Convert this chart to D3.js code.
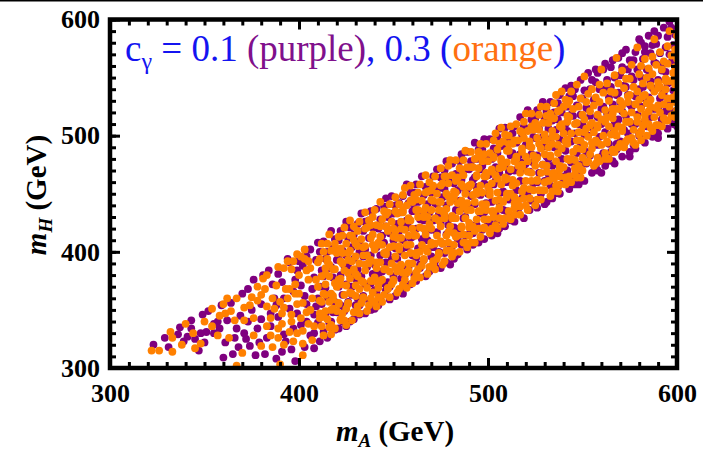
<!DOCTYPE html>
<html>
<head>
<meta charset="utf-8">
<script src="https://cdn.jsdelivr.net/npm/d3@7"></script>
<style>
  body { margin: 0; background: #fff; }
  svg { display: block; }
</style>
</head>
<body>
<svg id="chart" width="703" height="450"></svg>
<script>
// Axis tick values and labels
const xTicks = [300, 400, 500, 600];
const yTicks = [300, 400, 500, 600];
const xTickLabels = ["300", "400", "500", "600"];
const yTickLabels = ["300", "400", "500", "600"];

// Scan points [mA, mH] in GeV, c_gamma = 0.1
const purplePoints = [
  [323,320],[331,318],[329,326],[336,329],[343,341],[343,334],[339,323],[349,346],[351,331],[355,330],[347,315],
  [359,354],[362,341],[367,334],[368,318],[370,364],[373,368],[375,350],[378,334],[374,319],[377,311],[382,312],
  [387,360],[389,344],[383,326],[391,314],[386,372],[395,391],[389,381],[397,334],[401,337],[404,340],[401,371],
  [395,351],[404,355],[393,323],[398,306],[385,336],[380,355],[392,360],[357,340],[364,356],[352,349],[345,325],
  [361,322],[369,345],[376,376],[381,380],[384,384],[398,376],[399,347],[403,318],[406,328],[402,388],[406,402],
  [407,368],[365,312],[371,330],[360,309],[388,308],[396,316],[408,346],[408,317],[394,394],[399,384],[391,374],
  [385,347],[380,342],[373,340],[366,326],[358,334],[350,322],[337,335],[404,396],[400,392],[397,366],[403,362],
  [388,354],[392,329],[379,322],[372,325],[355,338],[348,330],[341,327],
  [410,408],[411,400],[409,393],[412,384],[408,378],[411,370],[410,360],[409,353],[412,345],[410,339],[408,330],[411,323],
  [413,409],[415,400],[414,394],[416,386],[413,379],[414,369],[415,361],[412,355],[414,346],[416,339],[413,331],[415,326],
  [417,418],[419,411],[418,403],[420,393],[417,387],[418,378],[420,371],[416,363],[419,357],[418,348],[417,340],[419,333],
  [422,418],[421,410],[423,401],[421,394],[424,388],[422,380],[421,370],[423,363],[422,354],[420,348],[423,340],[421,334],
  [425,426],[427,421],[426,412],[428,404],[425,397],[426,387],[427,380],[425,372],[428,363],[426,357],[424,349],[427,340],
  [431,424],[429,415],[430,408],[432,400],[429,394],[431,385],[430,377],[428,370],[431,360],[430,354],[432,346],[429,342],
  [433,433],[435,426],[434,418],[432,409],[435,402],[434,396],[436,387],[433,379],[435,372],[434,362],[432,354],[435,347],
  [438,435],[437,427],[439,421],[437,412],[440,404],[438,397],[436,388],[439,381],[438,373],[440,367],[437,358],[438,350],
  [441,437],[443,428],[442,420],[444,414],[441,404],[443,397],[440,389],[442,380],[444,373],[441,365],[443,359],[442,354],
  [446,446],[445,439],[447,430],[446,422],[448,416],[445,408],[447,398],[446,391],[444,383],[447,374],[446,367],[448,359],
  [449,448],[451,440],[450,433],[452,424],[449,418],[450,410],[451,403],[449,393],[452,385],[450,379],[448,370],[451,362],
  [455,448],[453,442],[454,434],[456,425],[453,418],[455,410],[454,400],[452,394],[455,386],[454,377],[456,370],[453,366],
  [457,458],[459,451],[458,442],[460,435],[457,427],[458,421],[459,412],[457,404],[460,397],[458,387],[456,380],[459,372],
  [462,458],[461,451],[463,443],[461,437],[464,428],[462,420],[460,413],[463,403],[462,395],[464,389],[461,380],[462,375],
  [465,465],[467,456],[466,449],[468,441],[465,433],[466,427],[467,418],[465,411],[468,401],[466,393],[464,386],[467,379],
  [471,465],[469,457],[470,451],[472,442],[469,434],[471,427],[470,419],[468,410],[471,404],[470,396],[472,387],[469,383],
  [473,471],[475,464],[474,455],[476,447],[473,441],[474,432],[475,425],[473,417],[476,407],[474,400],[472,392],[475,386],
  [478,478],[477,470],[479,463],[477,454],[480,446],[478,440],[476,430],[479,423],[478,415],[480,406],[477,399],[478,391],
  [481,476],[483,467],[482,459],[484,453],[481,445],[483,436],[480,429],[482,421],[484,411],[481,405],[483,397],[482,394],
  [486,484],[485,478],[487,469],[486,462],[488,454],[485,444],[486,437],[487,429],[485,420],[488,414],[486,406],[484,398],
  [489,486],[491,478],[490,471],[492,462],[489,454],[491,448],[490,440],[488,430],[491,423],[490,415],[492,406],[489,402],
  [493,494],[495,488],[494,480],[496,471],[493,464],[494,456],[495,450],[493,441],[496,433],[494,423],[492,416],[495,408],
  [498,497],[497,488],[499,482],[497,474],[500,466],[498,459],[496,449],[499,442],[498,434],[500,425],[497,419],[498,411],
  [501,497],[503,489],[502,480],[504,473],[501,467],[503,458],[500,450],[502,443],[504,433],[501,425],[503,418],[502,414],
  [506,506],[505,499],[507,491],[505,485],[508,476],[506,468],[504,461],[507,451],[506,443],[508,436],[505,427],[506,420],
  [509,507],[511,498],[510,491],[512,483],[509,475],[511,469],[510,460],[508,452],[511,445],[510,435],[512,427],[509,422],
  [514,508],[513,502],[515,494],[513,485],[516,478],[514,470],[512,460],[515,453],[514,445],[516,439],[513,430],[514,426],
  [517,516],[519,508],[518,501],[520,492],[517,484],[518,477],[519,471],[517,461],[520,453],[518,446],[516,437],[519,429],
  [521,522],[523,514],[522,506],[524,499],[521,493],[523,484],[520,476],[522,469],[524,459],[521,451],[523,444],[522,436],
  [526,522],[525,515],[527,506],[525,498],[528,491],[526,483],[524,477],[527,468],[526,460],[528,450],[525,443],[526,438],
  [529,529],[531,521],[530,515],[532,506],[529,499],[530,491],[531,482],[529,475],[532,467],[530,461],[528,451],[531,443],
  [533,529],[535,520],[534,513],[536,505],[533,497],[535,490],[532,480],[534,474],[536,466],[533,457],[535,450],[534,446],
  [538,535],[537,528],[539,520],[537,514],[540,505],[538,497],[536,490],[539,480],[538,472],[540,465],[537,456],[538,450],
  [541,541],[543,534],[542,525],[544,518],[541,510],[542,504],[543,495],[541,487],[544,477],[542,470],[540,462],[543,454],
  [546,540],[545,534],[547,526],[545,517],[548,510],[546,502],[544,495],[547,485],[546,477],[548,468],[545,462],[546,458],
  [549,548],[551,539],[550,532],[552,524],[549,518],[550,509],[551,501],[549,494],[552,486],[550,476],[548,469],[551,461],
  [553,554],[555,548],[554,540],[556,531],[553,523],[554,517],[555,507],[553,500],[556,492],[554,483],[552,476],[555,468],
  [558,554],[557,546],[559,540],[557,531],[560,523],[558,516],[556,507],[559,499],[558,492],[560,482],[557,474],[558,470],
  [561,557],[563,548],[562,540],[564,533],[561,525],[563,519],[560,510],[562,503],[564,493],[561,485],[563,478],[562,474],
  [566,565],[565,559],[567,550],[565,542],[568,535],[566,527],[564,517],[567,510],[566,502],[568,493],[565,486],[566,478],
  [569,567],[571,559],[570,552],[572,543],[569,537],[570,529],[571,521],[569,514],[572,505],[570,495],[568,488],[571,482],
  [573,574],[575,565],[574,557],[576,551],[573,542],[574,535],[575,527],[573,517],[576,510],[574,502],[572,493],[575,486],
  [578,572],[577,565],[579,557],[577,548],[580,540],[578,534],[576,525],[579,518],[578,510],[580,500],[577,492],[578,489],
  [581,580],[583,572],[582,566],[584,557],[581,550],[582,542],[583,532],[581,525],[584,516],[582,510],[580,502],[583,494],
  [585,586],[587,578],[586,571],[588,563],[585,556],[586,547],[587,541],[585,533],[588,523],[586,516],[584,508],[587,499],
  [590,586],[589,579],[591,571],[589,562],[592,556],[590,548],[588,539],[591,532],[590,524],[592,514],[589,507],[590,502],
  [593,593],[595,585],[594,576],[596,570],[593,562],[594,555],[595,545],[593,537],[596,530],[594,521],[592,513],[595,506],
  [597,593],[599,587],[598,578],[600,570],[597,563],[599,555],[596,546],[598,539],[600,531],[597,521],[599,514],[598,510],
  [596,598],[588,590],[580,583],[571,571],[583,577],[557,557],[544,543],[562,562],[560,468],[575,482],[590,498],
  [548,458],[530,441],[505,416],[480,389],[455,364],[440,351],[425,336],[600,508],[567,476]
];

// Scan points [mA, mH] in GeV, c_gamma = 0.3
const orangePoints = [
  [322,315],[326,315],[333,326],[333,314],[332,331],[340,338],[345,317],[348,321],[354,351],[354,336],[358,345],
  [360,355],[364,349],[363,326],[367,360],[374,354],[376,343],[376,328],[380,319],[381,377],[380,363],[383,353],
  [385,343],[389,334],[389,326],[392,320],[383,336],[397,323],[402,321],[402,332],[394,392],[399,398],[403,402],
  [389,387],[383,380],[395,368],[394,360],[399,355],[404,348],[367,302],[390,303],[371,341],[378,370],[386,360],
  [391,347],[396,340],[400,364],[405,376],[400,380],[396,385],[405,392],[407,360],[408,336],[407,324],[386,318],
  [370,313],[357,328],[350,340],[344,330],[338,320],[362,360],[402,311],[395,331],[388,371],[392,352],[403,394],
  [406,386],[398,372],[385,328],[375,361],[392,386],[397,392],[401,396],[404,384],[398,364],[402,356],[406,350],
  [393,368],[390,357],[387,351],[401,343],[405,338],[396,346],[399,330],[391,338],[382,368],[378,358],[371,352],
  [366,341],[361,347],
  [412,407],[413,400],[411,394],[414,386],[412,379],[410,370],[413,364],[412,357],[414,349],[411,343],[412,336],[413,328],
  [416,415],[415,407],[417,401],[415,394],[418,385],[416,379],[414,372],[417,364],[416,357],[418,351],[415,342],[416,335],[417,329],
  [421,413],[419,407],[420,399],[422,392],[419,385],[421,376],[420,370],[418,362],[421,355],[420,349],[422,341],[419,334],
  [424,421],[423,414],[425,407],[423,399],[426,393],[424,384],[422,377],[425,371],[424,363],[426,356],[423,347],[424,341],[425,337],
  [427,427],[429,422],[428,414],[430,407],[427,401],[428,392],[429,385],[427,377],[430,371],[428,364],[426,355],[429,348],[428,341],
  [432,426],[431,418],[433,411],[431,405],[434,397],[432,390],[430,381],[433,375],[432,368],[434,360],[431,353],[432,347],
  [435,434],[437,427],[436,421],[438,412],[435,405],[436,397],[437,391],[435,384],[438,375],[436,369],[434,361],[437,354],[436,349],
  [440,436],[439,430],[441,423],[439,415],[442,408],[440,402],[438,393],[441,386],[440,378],[442,372],[439,365],[440,357],[441,353],
  [443,443],[445,435],[444,428],[446,422],[443,413],[444,406],[445,399],[443,391],[446,385],[444,376],[442,369],[445,363],[444,357],
  [448,441],[447,434],[449,426],[447,420],[450,413],[448,404],[446,398],[449,390],[448,383],[450,376],[447,368],[448,361],
  [451,447],[453,441],[452,433],[454,426],[451,418],[452,412],[453,405],[451,396],[454,389],[452,383],[450,375],[453,368],[452,365],
  [456,455],[455,449],[457,440],[455,434],[458,427],[456,419],[454,412],[457,406],[456,397],[458,390],[455,382],[456,376],[457,369],
  [459,457],[461,449],[460,443],[462,436],[459,427],[460,420],[461,414],[459,406],[462,399],[460,390],[458,384],[461,377],[460,373],
  [464,458],[463,451],[465,444],[463,436],[466,430],[464,421],[462,414],[465,406],[464,400],[466,393],[463,385],[464,378],
  [467,466],[469,460],[468,452],[470,445],[467,438],[468,430],[469,424],[467,415],[470,408],[468,400],[466,394],[469,387],[468,381],
  [472,465],[471,457],[473,450],[471,444],[474,436],[472,429],[470,420],[473,414],[472,407],[474,399],[471,392],[472,385],
  [475,472],[477,465],[476,459],[478,450],[475,443],[476,435],[477,429],[475,422],[478,414],[476,407],[474,398],[477,392],[476,389],
  [480,479],[479,474],[481,466],[479,459],[482,452],[480,443],[478,437],[481,429],[480,422],[482,416],[479,408],[480,401],[481,396],
  [483,479],[485,472],[484,464],[486,458],[483,451],[484,442],[485,435],[483,429],[486,421],[484,414],[482,406],[485,400],
  [488,487],[487,479],[489,473],[487,466],[490,457],[488,450],[486,444],[489,436],[488,429],[490,421],[487,415],[488,408],[489,404],
  [491,486],[493,480],[492,473],[494,465],[491,458],[492,449],[493,443],[491,436],[494,428],[492,422],[490,414],[493,408],
  [496,493],[495,486],[497,478],[495,472],[498,465],[496,457],[494,450],[497,441],[496,435],[498,428],[495,420],[496,413],
  [499,493],[501,485],[500,478],[502,471],[499,465],[500,456],[501,449],[499,441],[502,435],[500,428],[498,420],[501,416],
  [504,502],[503,496],[505,488],[503,481],[506,472],[504,466],[502,459],[505,451],[504,444],[506,438],[503,430],[504,423],[505,420],
  [507,507],[509,501],[508,495],[510,487],[507,480],[508,473],[509,464],[507,458],[510,450],[508,443],[506,437],[509,429],[508,424],
  [512,508],[511,500],[513,493],[511,487],[514,478],[512,471],[510,463],[513,457],[512,450],[514,442],[511,435],[512,428],
  [515,510],[517,504],[516,496],[518,489],[515,482],[516,474],[517,468],[515,459],[518,452],[516,444],[514,438],[517,432],
  [520,519],[519,512],[521,504],[519,498],[522,491],[520,482],[518,475],[521,469],[520,461],[522,454],[519,446],[520,440],[521,436],
  [523,519],[525,511],[524,505],[526,498],[523,490],[524,483],[525,474],[523,468],[526,461],[524,453],[522,446],[525,440],
  [528,525],[527,518],[529,511],[527,505],[530,496],[528,489],[526,481],[529,475],[528,468],[530,460],[527,453],[528,445],
  [531,525],[533,519],[532,511],[534,504],[531,496],[532,490],[533,483],[531,474],[534,467],[532,461],[530,453],[533,448],
  [536,535],[535,528],[537,521],[535,515],[538,508],[536,499],[534,493],[537,485],[536,478],[538,471],[535,463],[536,457],[537,452],
  [539,538],[541,531],[540,525],[542,517],[539,510],[540,502],[541,495],[539,489],[542,480],[540,473],[538,465],[541,458],
  [544,538],[543,530],[545,523],[543,516],[546,510],[544,502],[542,493],[545,486],[544,480],[546,472],[543,465],[544,460],
  [547,544],[549,532],[548,525],[550,518],[547,511],[548,503],[549,496],[547,489],[550,481],[548,474],[546,467],[549,464],
  [551,551],[553,536],[552,529],[554,521],[551,514],[552,506],[553,499],[551,492],[554,484],[552,477],[550,470],
  [555,540],[557,533],[556,526],[558,518],[555,511],[556,503],[557,496],[555,489],[558,481],[556,474],
  [560,557],[559,544],[561,537],[559,529],[562,522],[560,514],[558,507],[561,500],[560,492],[562,485],[559,478],
  [563,545],[565,538],[564,530],[566,523],[563,516],[564,508],[565,501],[563,494],[566,486],[564,480],
  [568,567],[567,552],[569,545],[567,537],[570,530],[568,523],[566,515],[569,508],[568,500],[570,493],[567,486],
  [571,556],[573,549],[572,541],[574,534],[571,526],[572,519],[573,512],[571,504],[574,497],[572,490],
  [576,561],[575,549],[577,542],[575,535],[578,527],[576,520],[574,512],[577,505],[576,498],[578,492],
  [579,576],[581,560],[580,553],[582,545],[579,538],[580,531],[581,523],[579,516],[582,509],[580,501],[581,496],
  [583,566],[585,558],[584,550],[586,543],[583,535],[584,528],[585,521],[583,514],[586,507],[584,500],
  [588,583],[587,568],[589,561],[587,553],[590,546],[588,538],[586,531],[589,524],[588,516],[590,509],[587,504],
  [591,572],[593,564],[592,557],[594,549],[591,542],[592,535],[593,527],[591,520],[594,513],[592,508],
  [596,590],[595,577],[597,569],[595,562],[598,554],[596,547],[594,540],[597,532],[596,525],[598,518],[595,513],
  [600,586],[599,574],[600,566],[599,559],[600,551],[599,544],[600,536],[599,529],[600,522],[599,516],
  [410,391],[409,376],[411,358],[411,347],[415,392],[414,381],[414,363],[413,344],[417,337],
  [419,401],[416,389],[419,373],[418,359],[417,350],[422,403],[423,390],[422,372],[421,356],[422,342],
  [427,414],[426,399],[426,382],[427,365],[425,351],[429,410],[430,396],[431,379],[430,362],[431,348],
  [435,420],[434,404],[435,389],[434,374],[433,356],[438,423],[439,406],[437,390],[439,375],[438,360],
  [443,422],[442,406],[441,391],[443,375],[442,361],[446,432],[447,418],[446,400],[445,385],[447,369],
  [451,435],[450,420],[450,405],[451,387],[449,372],[455,436],[454,420],[453,402],[454,388],[455,372],
  [459,444],[458,429],[458,414],[459,399],[457,382],[462,445],[463,430],[461,415],[462,397],[462,382],
  [467,451],[466,435],[466,420],[467,403],[465,388],[470,453],[470,436],[469,421],[470,406],[471,389],
  [475,457],[474,443],[474,427],[475,409],[473,394],[478,465],[479,448],[477,432],[479,417],[478,401],
  [483,461],[482,447],[481,431],[483,413],[482,399],[486,471],[487,456],[487,439],[486,422],[487,408],
  [491,473],[490,456],[489,442],[490,425],[491,408],[495,482],[494,466],[494,452],[495,435],[493,418],
  [498,484],[499,468],[497,451],[499,436],[498,421],[503,482],[502,469],[501,452],[503,435],[502,420],
  [506,493],[507,478],[505,463],[506,445],[506,429],[511,493],[510,477],[509,462],[510,447],[511,429],
  [514,496],[515,480],[513,462],[514,447],[514,432],[518,503],[518,486],[518,473],[519,455],[517,439],
  [523,508],[522,495],[521,478],[523,461],[522,446],[526,508],[527,493],[525,479],[526,462],[526,445],
  [531,517],[530,501],[530,484],[531,469],[529,453],[534,515],[534,499],[533,482],[535,468],[534,452],
  [538,522],[539,507],[537,492],[538,474],[538,458],[542,527],[542,512],[542,497],[543,479],[541,464],
  [547,496],[546,479],[547,464],[551,503],[550,488],[549,471],[554,509],[555,494],[553,478],
  [558,509],[558,494],[557,476],[562,512],[563,495],[562,480],[566,519],[567,504],[566,488],
  [570,523],[571,507],[569,490],[574,529],[575,512],[573,495],[578,527],[579,512],[577,494],
  [582,534],[583,518],[581,504],[586,543],[586,525],[585,510],[590,541],[590,526],[589,509],
  [594,547],[595,532],[593,515],[598,548],[598,533],[597,517]
];

const minorTicks = d3.range(300, 601, 10);

const svg = d3.select("#chart");
const W = 703, H = 450;
const serif = "'Liberation Serif', 'Times New Roman', serif";

const x = d3.scaleLinear().domain([300, 600]).range([110, 677]);
const y = d3.scaleLinear().domain([300, 600]).range([368, 19.5]);

svg.append("rect").attr("width", W).attr("height", H).attr("fill", "#fff");
svg.append("line")
  .attr("x1", 0).attr("x2", W).attr("y1", 0.75).attr("y2", 0.75)
  .attr("stroke", "#000").attr("stroke-width", 1.5);

svg.append("clipPath").attr("id", "plot-clip")
  .append("rect")
  .attr("x", x(300)).attr("y", y(600))
  .attr("width", x(600) - x(300)).attr("height", y(300) - y(600));

const dots = svg.append("g").attr("clip-path", "url(#plot-clip)");
const R = 3.9;
dots.append("g").selectAll("circle").data(purplePoints).join("circle")
  .attr("cx", d => x(d[0])).attr("cy", d => y(d[1])).attr("r", R)
  .attr("fill", "#7f007f");
dots.append("g").selectAll("circle").data(orangePoints).join("circle")
  .attr("cx", d => x(d[0])).attr("cy", d => y(d[1])).attr("r", R)
  .attr("fill", "#ff8000");

// Inward tick marks on all four sides
function styleTicks(g) {
  g.select(".domain").remove();
  g.selectAll(".tick line").attr("stroke", "#000").attr("stroke-width", 3);
}
const sides = [
  { axis: d3.axisBottom(x), t: `translate(0,${y(300)})` },
  { axis: d3.axisTop(x), t: `translate(0,${y(600)})` },
  { axis: d3.axisLeft(y), t: `translate(${x(300)},0)` },
  { axis: d3.axisRight(y), t: `translate(${x(600)},0)` }
];
sides.forEach(s => {
  svg.append("g").attr("transform", s.t)
    .call(s.axis.tickValues(minorTicks).tickSize(-6).tickFormat(""))
    .call(styleTicks);
});
[d3.axisTop(x), d3.axisRight(y)].forEach((a, i) => {
  svg.append("g").attr("transform", i === 0 ? `translate(0,${y(600)})` : `translate(${x(600)},0)`)
    .call(a.tickValues(i === 0 ? xTicks : yTicks).tickSize(-10).tickFormat(""))
    .call(styleTicks);
});

// Labelled axes
const xAxis = svg.append("g").attr("transform", `translate(0,${y(300)})`)
  .call(d3.axisBottom(x).tickValues(xTicks).tickSize(-10).tickPadding(16)
    .tickFormat((d, i) => xTickLabels[i]))
  .call(styleTicks);
const yAxis = svg.append("g").attr("transform", `translate(${x(300)},0)`)
  .call(d3.axisLeft(y).tickValues(yTicks).tickSize(-10).tickPadding(10)
    .tickFormat((d, i) => yTickLabels[i]))
  .call(styleTicks);
[xAxis, yAxis].forEach(g => g.selectAll("text")
  .attr("fill", "#000").style("font-family", serif)
  .style("font-weight", "bold").style("font-size", "26px"));

// Frame
svg.append("rect")
  .attr("x", x(300)).attr("y", y(600))
  .attr("width", x(600) - x(300)).attr("height", y(300) - y(600))
  .attr("fill", "none").attr("stroke", "#000").attr("stroke-width", 4.5);

// Axis titles
function massTitle(sel, sub) {
  sel.style("font-family", serif).style("font-weight", "bold")
    .style("font-size", "29px").attr("fill", "#000");
  sel.append("tspan").style("font-style", "italic").text("m");
  sel.append("tspan").style("font-style", "italic").style("font-size", "19px")
    .attr("dy", 6).text(sub);
  sel.append("tspan").attr("dy", -6).text(" (GeV)");
}
svg.append("text").attr("x", 395).attr("y", 441).attr("text-anchor", "middle")
  .call(massTitle, "A");
svg.append("text").attr("transform", "translate(46,195) rotate(-90)")
  .attr("text-anchor", "middle").call(massTitle, "H");

// Legend line
const blue = "#1414f0";
const legend = svg.append("text").attr("x", 125).attr("y", 61)
  .style("font-family", serif).style("font-size", "37px").attr("fill", blue);
legend.append("tspan").text("c");
legend.append("tspan").style("font-size", "24px").attr("dy", 8).text("\u03b3");
legend.append("tspan").attr("dy", -8).text(" = 0.1 ");
legend.append("tspan").attr("fill", "#80108c").text("(purple)");
legend.append("tspan").text(", 0.3 (");
legend.append("tspan").attr("fill", "#ff7010").text("orange");
legend.append("tspan").text(")");
</script>
</body>
</html>
